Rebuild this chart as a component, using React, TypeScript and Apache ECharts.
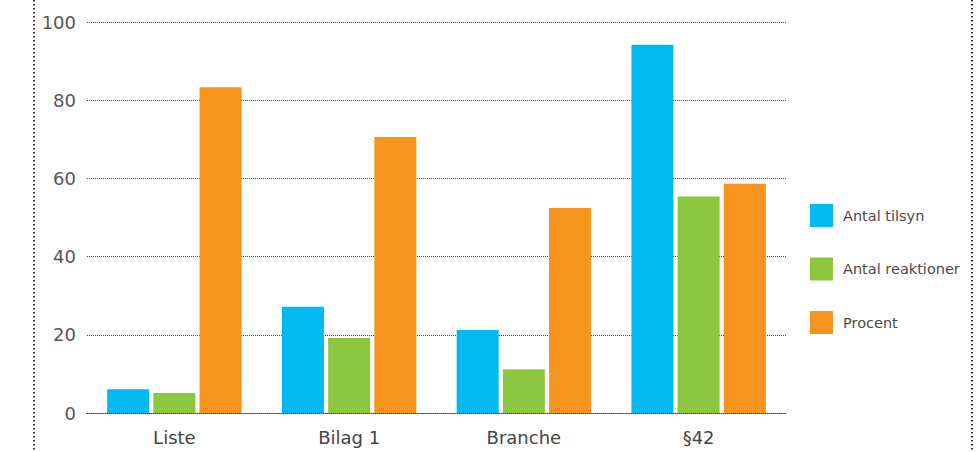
import React, { useEffect, useRef } from "react";
import * as echarts from "echarts";

const categories = ["Liste", "Bilag 1", "Branche", "§42"];
const seriesNames = ["Antal tilsyn", "Antal reaktioner", "Procent"];
const antalTilsyn = [6.1, 27.2, 21.2, 94.2];
const antalReaktioner = [5.1, 19.2, 11.2, 55.4];
const procent = [83.3, 70.6, 52.4, 58.6];
const colors = ["#00B9F1", "#8DC63F", "#F7941E"];

export default function App() {
  const ref = useRef<HTMLDivElement>(null);
  useEffect(() => {
    document.body.style.margin = "0";
    const chart = echarts.init(ref.current!, null, { renderer: "svg" });
    const font = "'DejaVu Sans', sans-serif";
    const mk = (name: string, data: number[], color: string) => ({
      name,
      type: "bar",
      data,
      barWidth: 42,
      barGap: "10%",
      itemStyle: { color },
    });
    chart.setOption({
      animation: false,
      textStyle: { fontFamily: font },
      grid: { left: 87, right: 193, top: 22, bottom: 39 },
      legend: {
        orient: "vertical",
        left: 805,
        top: 199,
        itemWidth: 23,
        itemHeight: 23,
        itemGap: 30.5,
        icon: "rect",
        textStyle: { fontSize: 14.5, color: "#4a4a4a", fontFamily: font, padding: [0, 0, 0, 5] },
        data: seriesNames,
      },
      xAxis: {
        type: "category",
        data: categories,
        axisLine: { show: true, lineStyle: { type: "dotted", color: "#444", width: 1 } },
        axisTick: { show: false },
        axisLabel: { fontSize: 18, color: "#444", margin: 15, fontFamily: font },
      },
      yAxis: {
        type: "value",
        min: 0,
        max: 100,
        interval: 20,
        axisLine: { show: false },
        axisTick: { show: false },
        axisLabel: { fontSize: 18, color: "#555", margin: 11, fontFamily: font },
        splitLine: { lineStyle: { type: "dotted", color: "#444", width: 1 } },
      },
      graphic: [
        {
          type: "line",
          shape: { x1: 34, y1: 0, x2: 34, y2: 452 },
          style: { stroke: "#333", lineWidth: 2, lineDash: [1.5, 2.5] },
        },
        {
          type: "line",
          shape: { x1: 972, y1: 0, x2: 972, y2: 452 },
          style: { stroke: "#333", lineWidth: 2, lineDash: [1.5, 2.5] },
        },
      ],
      series: [
        mk(seriesNames[0], antalTilsyn, colors[0]),
        mk(seriesNames[1], antalReaktioner, colors[1]),
        mk(seriesNames[2], procent, colors[2]),
      ],
    });
    return () => chart.dispose();
  }, []);
  return (
    <div
      ref={ref}
      style={{ position: "absolute", left: 0, top: 0, width: 979, height: 452, background: "#fff" }}
    />
  );
}
